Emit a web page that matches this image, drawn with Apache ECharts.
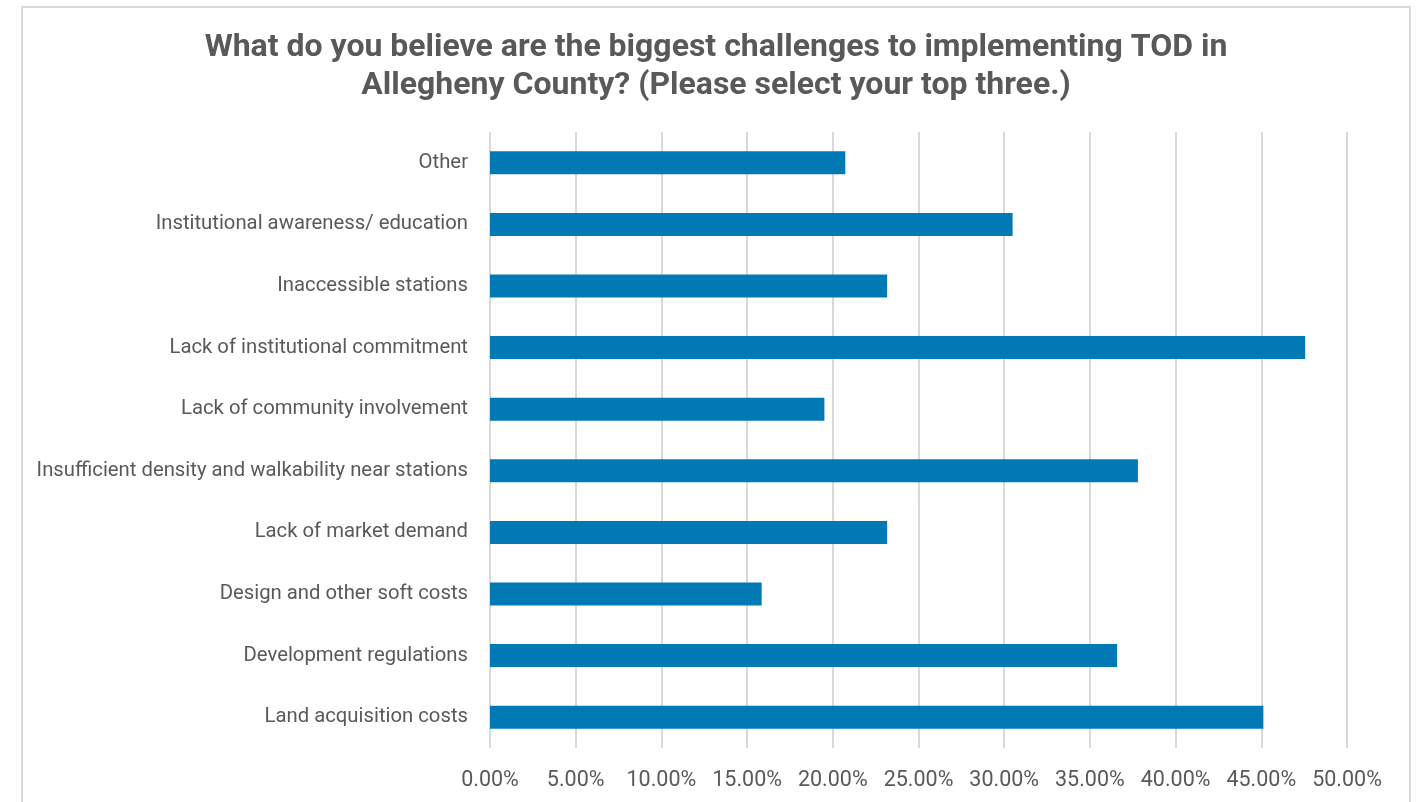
<!DOCTYPE html>
<html>
<head>
<meta charset="utf-8">
<script src="https://cdn.jsdelivr.net/npm/echarts@6/dist/echarts.min.js"></script>
<style>
  html, body { margin: 0; padding: 0; width: 1424px; height: 802px; overflow: hidden; background: #ffffff; }
  #chart {
    position: absolute; left: 21px; top: 6px;
    width: 1390px; height: 840px;
    box-sizing: border-box; border: 2px solid #d9d9d9; background: #ffffff;
  }
</style>
</head>
<body>
<div id="chart"></div>
<script>
// Survey responses, listed bottom-to-top as they appear on the axis
const categories = [
  'Land acquisition costs',
  'Development regulations',
  'Design and other soft costs',
  'Lack of market demand',
  'Insufficient density and walkability near stations',
  'Lack of community involvement',
  'Lack of institutional commitment',
  'Inaccessible stations',
  'Institutional awareness/ education',
  'Other'
];
// Share of respondents selecting each challenge (%)
const shares = [45.12, 36.59, 15.85, 23.17, 37.80, 19.51, 47.56, 23.17, 30.49, 20.73];

const titleText = 'What do you believe are the biggest challenges to implementing TOD in\nAllegheny County? (Please select your top three.)';

const FONT = 'Roboto, "Open Sans", sans-serif';
const TEXT = '#595959';

const chart = echarts.init(document.getElementById('chart'), null, { renderer: 'canvas' });
chart.setOption({
  animation: false,
  title: {
    text: titleText,
    left: 'center',
    top: 16,
    textStyle: {
      fontFamily: FONT, fontSize: 32, fontWeight: 'bold', color: TEXT, lineHeight: 38
    }
  },
  grid: { left: 467, top: 124, width: 857, height: 616 },
  xAxis: {
    type: 'value',
    min: 0, max: 50, interval: 5,
    axisLine: { show: false },
    axisTick: { show: false },
    splitLine: { show: true, lineStyle: { color: '#d9d9d9', width: 2 } },
    axisLabel: {
      margin: 22,
      fontFamily: FONT, fontSize: 21.5, color: TEXT,
      formatter: v => v.toFixed(2) + '%'
    }
  },
  yAxis: {
    type: 'category',
    data: categories,
    axisLine: { show: false },
    axisTick: { show: false },
    splitLine: { show: false },
    axisLabel: { margin: 22, fontFamily: FONT, fontSize: 20.3, color: TEXT, padding: [6, 0, 0, 0] }
  },
  series: [{
    type: 'bar',
    data: shares,
    barWidth: 23,
    itemStyle: { color: '#0079b5' }
  }]
});
</script>
</body>
</html>
